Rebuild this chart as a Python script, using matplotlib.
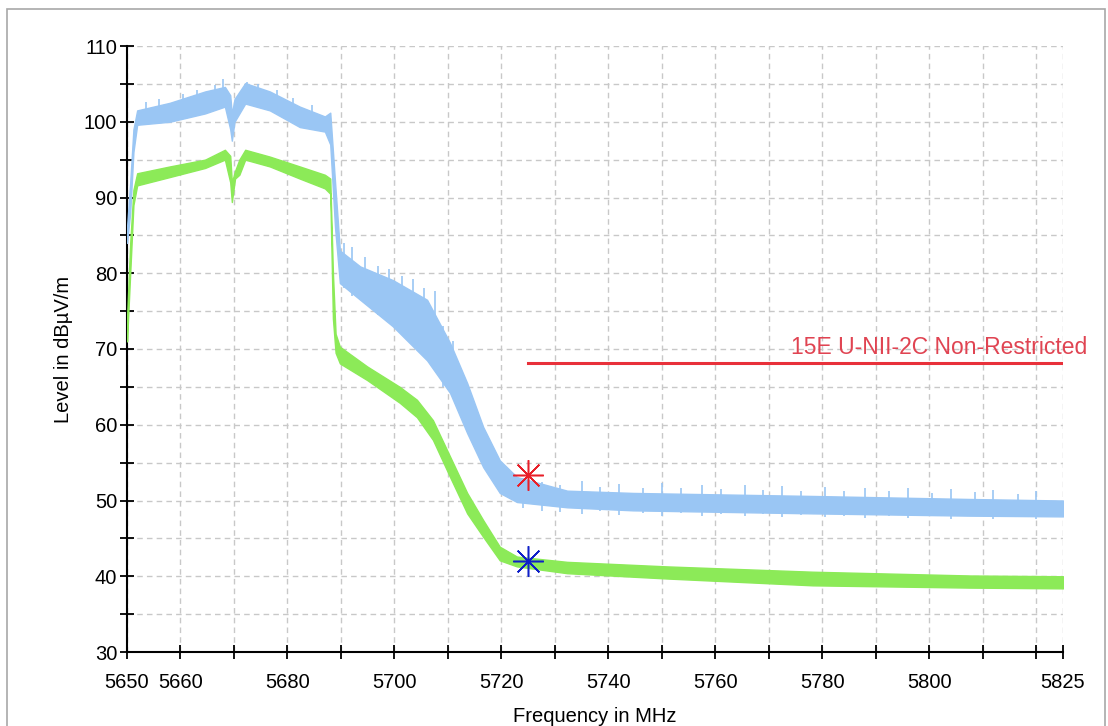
import matplotlib
matplotlib.use("Agg")
import matplotlib.pyplot as plt
from matplotlib.patches import Rectangle

plt.rcParams["font.family"] = ["Liberation Sans", "DejaVu Sans"]

# --- Horizontal polarisation trace (blue), envelope ---
blue_freq = [5650.0, 5650.6, 5651.2, 5651.9, 5658.0, 5664.6, 5668.3, 5669.3, 5669.6,
             5670.1, 5672.1, 5676.7, 5682.3, 5687.0, 5688.0, 5688.9, 5689.8, 5693.6,
             5699.7, 5706.1, 5710.4, 5713.6, 5716.6, 5719.7, 5722.9, 5732.3, 5744.6,
             5778.2, 5807.6, 5825.0]
blue_hi = [86.0, 92.0, 99.0, 101.5, 102.5, 104.0, 104.6, 103.5, 101.0,
           103.0, 105.1, 104.0, 102.0, 100.7, 101.2, 92.0, 83.0, 80.9,
           79.1, 76.5, 70.8, 65.5, 59.7, 55.3, 53.1, 51.3, 51.0,
           50.6, 50.2, 50.0]
blue_lo = [84.0, 88.0, 96.0, 99.6, 100.0, 101.1, 102.0, 99.0, 97.5,
           100.0, 102.4, 101.5, 99.3, 98.7, 97.0, 86.0, 78.7, 76.5,
           73.0, 68.5, 64.2, 58.9, 54.4, 51.0, 49.8, 49.1, 48.7,
           48.3, 48.0, 47.9]

# single-sample spikes sticking out of the blue band
blue_spike_freq = [5653.5, 5656.0, 5660.5, 5663.0, 5666.5, 5668.0, 5672.5, 5674.5,
                   5678.0, 5681.0, 5684.5, 5690.5, 5692.0, 5694.5, 5697.0, 5699.0,
                   5701.5, 5703.5, 5705.5, 5707.5, 5709.0, 5711.0, 5724.0, 5727.5,
                   5731.0, 5735.0, 5738.5, 5742.0, 5746.5, 5750.0, 5753.5, 5757.5,
                   5761.0, 5765.5, 5769.0, 5772.5, 5776.0, 5780.5, 5784.0, 5788.0,
                   5792.5, 5796.0, 5800.5, 5804.0, 5808.5, 5812.0, 5816.5, 5820.0]
blue_spike_top = [102.6, 103.0, 103.6, 104.2, 104.8, 105.6, 105.3, 105.0,
                  104.2, 103.2, 102.2, 84.0, 83.4, 82.2, 81.0, 80.6,
                  79.6, 79.3, 78.0, 77.6, 73.0, 71.0, 53.0, 52.4,
                  52.0, 52.6, 51.8, 52.2, 51.7, 52.3, 51.6, 52.0,
                  51.5, 52.1, 51.4, 51.9, 51.3, 51.8, 51.2, 51.7,
                  51.3, 51.6, 51.0, 51.5, 51.1, 51.4, 50.9, 51.2]
blue_spike_bottom = [100.0, 100.5, 101.0, 101.5, 102.0, 102.5, 102.5, 102.0,
                     101.3, 100.5, 99.5, 78.0, 77.0, 76.0, 74.5, 73.5,
                     72.0, 71.0, 69.5, 67.5, 65.0, 64.0, 49.0, 48.6,
                     48.5, 48.2, 48.6, 48.1, 48.4, 48.0, 48.3, 47.9,
                     48.2, 47.9, 48.2, 47.8, 48.1, 47.8, 48.0, 47.7,
                     48.0, 47.7, 47.9, 47.6, 47.9, 47.6, 47.8, 47.6]

# --- Vertical polarisation trace (green) ---
green_freq = [5650.0, 5650.6, 5651.2, 5651.9, 5658.0, 5664.6, 5668.3, 5669.3, 5669.6,
              5670.2, 5671.0, 5672.1, 5676.7, 5682.3, 5687.0, 5688.0, 5688.5, 5689.0,
              5689.8, 5694.9, 5701.0, 5704.2, 5707.2, 5710.4, 5713.6, 5716.6, 5719.7,
              5722.9, 5732.3, 5751.0, 5778.2, 5807.6, 5825.0]
green_hi = [74.0, 84.0, 91.0, 93.2, 94.1, 95.0, 96.3, 95.5, 92.0,
            93.5, 95.0, 96.3, 95.4, 94.1, 93.0, 92.5, 80.0, 72.0,
            70.3, 67.7, 65.0, 63.3, 60.6, 55.8, 51.0, 47.4, 43.9,
            42.6, 41.9, 41.3, 40.6, 40.1, 40.0]
green_lo = [71.0, 80.0, 89.0, 91.6, 92.7, 93.9, 95.0, 92.0, 89.4,
            92.5, 93.0, 95.0, 94.1, 92.5, 91.2, 90.5, 74.0, 69.5,
            68.1, 65.9, 62.9, 61.0, 58.0, 53.1, 48.3, 45.2, 42.1,
            41.3, 40.4, 39.7, 38.8, 38.5, 38.4]

# Limit line and the two peak markers
limit_freq = [5725.0, 5825.0]
limit_level = [68.2, 68.2]
limit_label = "15E U-NII-2C Non-Restricted"
peak_freq = [5725.0, 5725.0]
peak_level = [53.4, 42.0]
peak_color = ["#e8202a", "#1020c8"]

x_ticks = list(range(5650, 5830, 10)) + [5825]
x_labels = ["5650", "5660", "", "5680", "", "5700", "", "5720", "", "5740", "",
            "5760", "", "5780", "", "5800", "", "", "5825"]
y_ticks = list(range(30, 115, 5))
y_labels = [str(v) if v % 10 == 0 else "" for v in y_ticks]

BLUE = "#9ac6f4"
GREEN = "#8cea58"
FS = 14.5

fig = plt.figure(figsize=(11.08, 7.26), dpi=100)
fig.patches.append(Rectangle((7 / 1108, -0.1), 1098 / 1108, 1.1 - 9 / 726,
                             transform=fig.transFigure, fill=False,
                             edgecolor="#a8a8a8", linewidth=1.2))
ax = fig.add_axes([127 / 1108, 1 - 652 / 726, 936 / 1108, 606 / 726])

ax.fill_between(blue_freq, blue_lo, blue_hi, color=BLUE, linewidth=1.0,
                edgecolor=BLUE, zorder=3)
ax.vlines(blue_spike_freq, blue_spike_bottom, blue_spike_top, color=BLUE,
          linewidth=1.2, zorder=3)
ax.fill_between(green_freq, green_lo, green_hi, color=GREEN, linewidth=1.0,
                edgecolor=GREEN, zorder=3)

ax.plot(limit_freq, limit_level, color="#e8303a", linewidth=2.2, zorder=4)
ax.text(5829.5, 68.7, limit_label, color="#e04452", fontsize=16.5,
        ha="right", va="bottom", clip_on=False, zorder=5)

for f, lv, c in zip(peak_freq, peak_level, peak_color):
    ax.plot([f], [lv], marker=(8, 2, 0), markersize=22, markeredgewidth=1.1,
            color=c, zorder=6)

ax.set_xlim(5650, 5825)
ax.set_ylim(30, 110)
ax.set_xticks(x_ticks)
ax.set_xticklabels(x_labels)
ax.set_yticks(y_ticks)
ax.set_yticklabels(y_labels)
ax.tick_params(direction="inout", length=10, width=1.3, labelsize=FS,
               colors="black")
ax.tick_params(axis="x", pad=10)
ax.tick_params(axis="y", pad=2)

ax.grid(True, color="#c8c8c8", linestyle=(0, (4, 3)), linewidth=1.0, zorder=0)
ax.set_axisbelow(True)
for s in ("top", "right"):
    ax.spines[s].set_visible(False)
for s in ("left", "bottom"):
    ax.spines[s].set_linewidth(1.5)
    ax.spines[s].set_zorder(2)

ax.set_xlabel("Frequency in MHz", fontsize=FS, labelpad=11)
ax.set_ylabel("Level in dB\u00b5V/m", fontsize=FS, labelpad=8)

fig.savefig("out.png", dpi=100)
